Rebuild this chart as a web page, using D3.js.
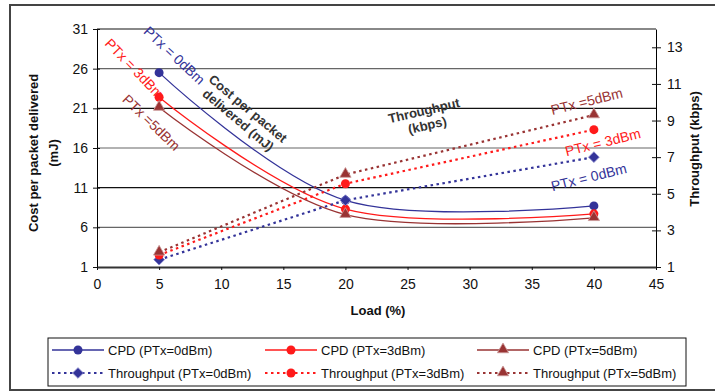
<!DOCTYPE html>
<html>
<head>
<meta charset="utf-8">
<script src="https://cdn.jsdelivr.net/npm/d3@7"></script>
<style>
  body { margin: 0; background: #fff; }
  svg { font-family: "Liberation Sans", Arial, sans-serif; }
</style>
</head>
<body>
<div id="chart"></div>
<script>
// data
const loads = [5, 20, 40];
const cpd0 = [25.5, 9.4, 8.7];
const cpd3 = [22.4, 8.3, 7.7];
const cpd5 = [21.1, 7.6, 7.2];
const thr0 = [1.4, 4.65, 7.0];
const thr3 = [1.65, 5.55, 8.5];
const thr5 = [1.8, 6.05, 9.3];
const xTicks = [0, 5, 10, 15, 20, 25, 30, 35, 40, 45];
const leftTicks = [1, 6, 11, 16, 21, 26, 31];
const rightTicks = [1, 3, 5, 7, 9, 11, 13];

const width = 715, height = 391;
const blue = "#333399", red = "#ff1a1a", dred = "#993333";

const svg = d3.select("#chart").append("svg")
  .attr("width", width).attr("height", height);

// outer frame
svg.append("rect").attr("x", 10).attr("y", 5).attr("width", 720).attr("height", 385)
  .attr("fill", "none").attr("stroke", "#444").attr("stroke-width", 2);

const x = d3.scaleLinear().domain([0, 45]).range([97, 656]);
const yL = d3.scaleLinear().domain([1, 31]).range([267, 29]);
const yR = d3.scaleLinear().domain([1, 14]).range([267, 29]);

// grid lines
svg.selectAll(".grid").data(leftTicks.slice(1, -1)).enter()
  .append("line")
  .attr("x1", x(0)).attr("x2", x(45))
  .attr("y1", d => yL(d)).attr("y2", d => yL(d))
  .attr("stroke", (d, i) => i % 2 == 0 ? "#666" : "#111")
  .attr("stroke-width", 1.2);
svg.append("line").attr("x1", x(0)).attr("x2", x(45))
  .attr("y1", yL(31)).attr("y2", yL(31))
  .attr("stroke", "#888").attr("stroke-width", 2);

// axes
const axL = svg.append("g").attr("transform", "translate(" + x(0) + ",0)")
  .call(d3.axisLeft(yL).tickValues(leftTicks).tickSize(4).tickSizeOuter(0));
axL.selectAll(".tick line").attr("x2", 3).attr("x1", -4);
axL.selectAll(".tick text").attr("x", -9);

const axR = svg.append("g").attr("transform", "translate(" + x(45) + ",0)")
  .call(d3.axisRight(yR).tickValues(rightTicks).tickSize(5).tickSizeOuter(0));
axR.selectAll(".tick line").attr("x1", -4).attr("x2", 5);
axR.selectAll(".tick text").attr("x", 11);

const axB = svg.append("g").attr("transform", "translate(0," + yL(1) + ")")
  .call(d3.axisBottom(x).tickValues(xTicks).tickSize(3).tickSizeOuter(0));
axB.selectAll(".tick text").attr("y", 12);
axB.select(".domain").attr("stroke", "#333").attr("stroke-width", 2);

[axL, axR, axB].forEach(a => {
  a.selectAll("text").attr("font-size", 14).attr("font-family", "Liberation Sans, Arial, sans-serif").attr("fill", "#111");
  a.selectAll("line").attr("stroke", "#111");
});

// axis titles
const lt = svg.append("text").attr("transform", "translate(38,153) rotate(-90)")
  .attr("text-anchor", "middle").attr("font-weight", "bold").attr("font-size", 13).attr("fill", "#111");
lt.append("tspan").attr("x", 0).attr("dy", 0).text("Cost per packet delivered");
lt.append("tspan").attr("x", 0).attr("dy", 20).text("(mJ)");

svg.append("text").attr("transform", "translate(699,149) rotate(-90)")
  .attr("text-anchor", "middle").attr("font-weight", "bold").attr("font-size", 13).attr("fill", "#111")
  .text("Throughput (kbps)");

svg.append("text").attr("x", 378).attr("y", 315)
  .attr("text-anchor", "middle").attr("font-weight", "bold").attr("font-size", 13).attr("fill", "#111")
  .text("Load (%)");

// series
const series = [
  { vals: cpd0, y: yL, color: blue, marker: "circle", dotted: false, name: "CPD (PTx=0dBm)" },
  { vals: cpd3, y: yL, color: red, marker: "circle", dotted: false, name: "CPD (PTx=3dBm)" },
  { vals: cpd5, y: yL, color: dred, marker: "triangle", dotted: false, name: "CPD (PTx=5dBm)" },
  { vals: thr0, y: yR, color: blue, marker: "diamond", dotted: true, name: "Throughput (PTx=0dBm)" },
  { vals: thr3, y: yR, color: red, marker: "circle", dotted: true, name: "Throughput (PTx=3dBm)" },
  { vals: thr5, y: yR, color: dred, marker: "triangle", dotted: true, name: "Throughput (PTx=5dBm)" }
];

function marker(g, type, color, cx, cy) {
  if (type == "circle") {
    g.append("circle").attr("cx", cx).attr("cy", cy).attr("r", 4.5).attr("fill", color);
  } else if (type == "diamond") {
    g.append("rect").attr("x", -3.8).attr("y", -3.8).attr("width", 7.6).attr("height", 7.6)
      .attr("transform", "translate(" + cx + "," + cy + ") rotate(45)")
      .attr("fill", color).attr("stroke", "#8888cc").attr("stroke-width", 0.8);
  } else {
    g.append("path").attr("d", d3.symbol(d3.symbolTriangle, 55)())
      .attr("transform", "translate(" + cx + "," + (cy - 0.5) + ")")
      .attr("fill", color).attr("stroke", "#c99").attr("stroke-width", 0.8);
  }
}

series.forEach(s => {
  const pts = loads.map((l, i) => [x(l), s.y(s.vals[i])]);
  const line = d3.line().curve(s.dotted ? d3.curveLinear : d3.curveCardinal.tension(0));
  svg.append("path").attr("d", line(pts)).attr("fill", "none")
    .attr("stroke", s.color)
    .attr("stroke-width", s.dotted ? 2.2 : 1.3)
    .attr("stroke-dasharray", s.dotted ? "2.5,3.5" : null);
  const g = svg.append("g");
  pts.forEach(p => marker(g, s.marker, s.color, p[0], p[1]));
});

// annotations
function note(txt, cx, cy, ang, color, bold, lines) {
  const t = svg.append("text").attr("transform", "translate(" + cx + "," + cy + ") rotate(" + ang + ")")
    .attr("text-anchor", "middle").attr("font-size", bold ? 13 : 14)
    .attr("font-weight", bold ? "bold" : "normal").attr("fill", color);
  const arr = lines || [txt];
  arr.forEach((l, i) => t.append("tspan").attr("x", 0).attr("dy", i == 0 ? 0 : 15).text(l));
}
note("PTx = 0dBm", 171, 59, 43, blue);
note("PTx = 3dBm", 131, 72, 46, red);
note("PTx =5dBm", 148, 126, 44, dred);
note(null, 245, 112, 40, "#333", true, ["Cost per packet", "delivered (mJ)"]);
note(null, 425, 115, -13, "#333", true, ["Throughput", "(kbps)"]);
note("PTx =5dBm", 588, 106, -14, dred);
note("PTx = 3dBm", 604, 147, -14, red);
note("PTx = 0dBm", 590, 182, -14, blue);

// legend
svg.append("rect").attr("x", 48).attr("y", 338).attr("width", 638).attr("height", 48)
  .attr("fill", "#fff").attr("stroke", "#111").attr("stroke-width", 1);
const colX = [52, 265, 477];
series.forEach((s, i) => {
  const cx = colX[i % 3], cy = i < 3 ? 350 : 373;
  svg.append("line").attr("x1", cx).attr("x2", cx + 52).attr("y1", cy).attr("y2", cy)
    .attr("stroke", s.color).attr("stroke-width", s.dotted ? 2.2 : 1.3)
    .attr("stroke-dasharray", s.dotted ? "2.5,3.5" : null);
  marker(svg, s.marker, s.color, cx + 26, cy);
  svg.append("text").attr("x", cx + 56).attr("y", cy + 5).attr("font-size", 13).attr("fill", "#111")
    .text(s.name);
});
</script>
</body>
</html>
